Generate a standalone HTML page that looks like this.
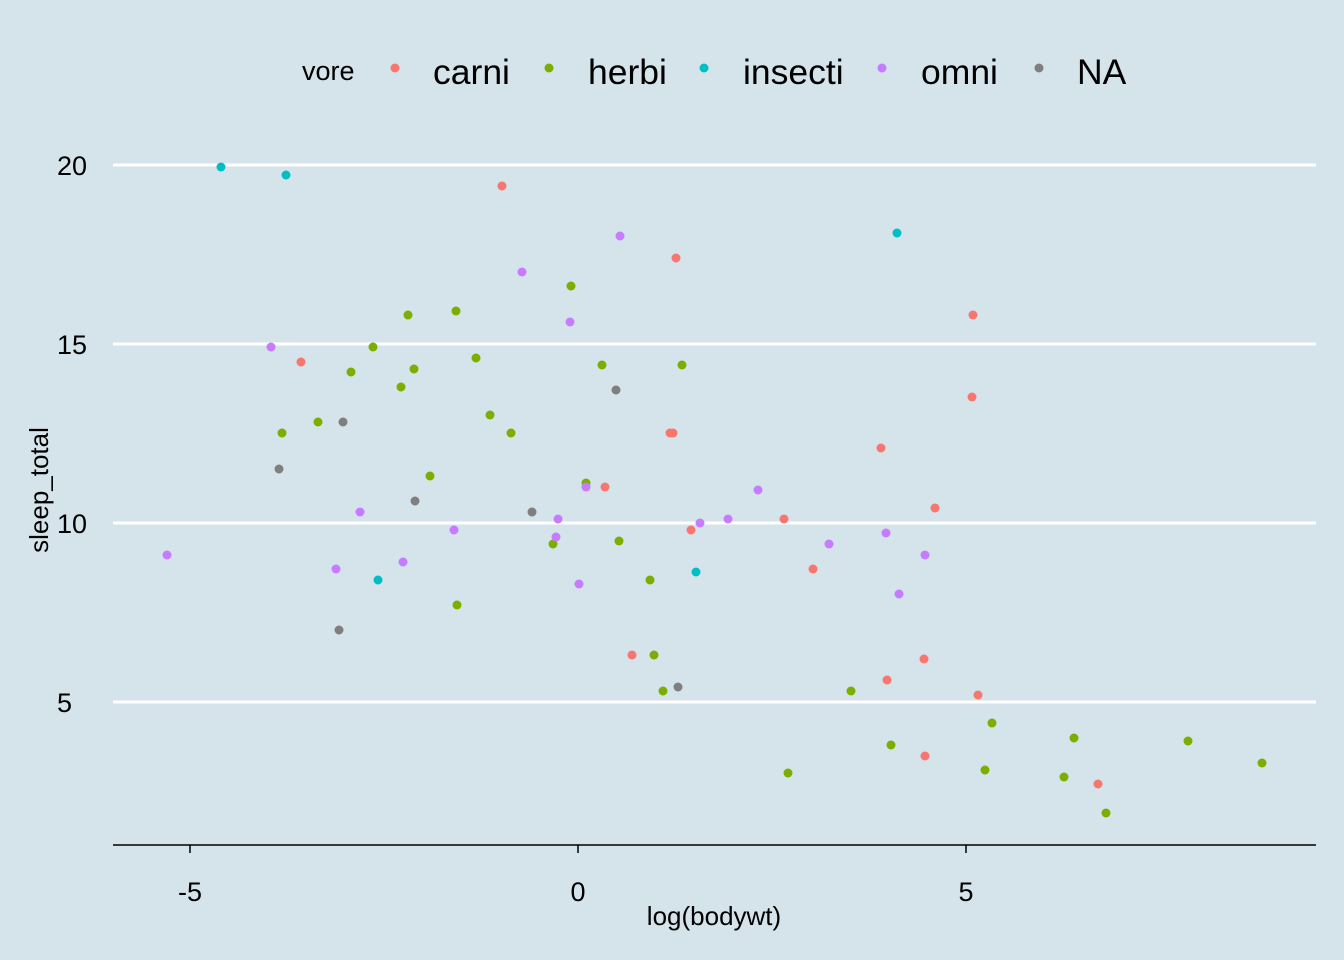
<!DOCTYPE html>
<html><head><style>html,body{margin:0;padding:0;background:#d5e4eb;}svg{display:block}</style></head>
<body>
<svg width="1344" height="960" xmlns="http://www.w3.org/2000/svg" font-family="Liberation Sans, Arial, sans-serif">
<rect width="1344" height="960" fill="#d5e4eb"/>
<g stroke="#fff" stroke-width="3">
<line x1="113" x2="1316" y1="165" y2="165"/>
<line x1="113" x2="1316" y1="344" y2="344"/>
<line x1="113" x2="1316" y1="523" y2="523"/>
<line x1="113" x2="1316" y1="702" y2="702"/>
</g>
<line x1="113" x2="1316" y1="845" y2="845" stroke="#000" stroke-width="1.5"/>
<g stroke="#000" stroke-width="1.5">
<line x1="190" x2="190" y1="845" y2="853"/><line x1="578" x2="578" y1="845" y2="853"/><line x1="966" x2="966" y1="845" y2="853"/>
</g>
<g font-size="27" fill="#000" text-anchor="end">
<text x="87" y="175">20</text><text x="87" y="354">15</text><text x="87" y="533">10</text><text x="72" y="712">5</text>
</g>
<g font-size="27" fill="#000" text-anchor="middle">
<text x="190" y="901">-5</text><text x="578" y="901">0</text><text x="966" y="901">5</text>
</g>
<g font-size="26" fill="#000" text-anchor="middle">
<text x="714" y="925">log(bodywt)</text>
<text transform="translate(48,490) rotate(-90)">sleep_total</text>
</g>
<text x="302" y="80" font-size="27">vore</text>
<g font-size="35.5">
<circle cx="395" cy="68" r="4.5" fill="#F8766D"/><text x="433" y="84">carni</text>
<circle cx="549" cy="68" r="4.5" fill="#7CAE00"/><text x="588" y="84">herbi</text>
<circle cx="704" cy="68" r="4.5" fill="#00BFC4"/><text x="743" y="84">insecti</text>
<circle cx="882" cy="68" r="4.5" fill="#C77CFF"/><text x="921" y="84">omni</text>
<circle cx="1039" cy="68" r="4.5" fill="#7F7F7F"/><text x="1077" y="84">NA</text>
</g>
<g fill="#00BFC4">
<circle cx="221" cy="167" r="4.5"/><circle cx="286" cy="175" r="4.5"/><circle cx="897" cy="233" r="4.5"/><circle cx="378" cy="580" r="4.5"/><circle cx="696" cy="572" r="4.5"/>
</g>
<g fill="#F8766D">
<circle cx="502" cy="186" r="4.5"/><circle cx="676" cy="258" r="4.5"/><circle cx="301" cy="362" r="4.5"/><circle cx="973" cy="315" r="4.5"/><circle cx="972" cy="397" r="4.5"/><circle cx="881" cy="448" r="4.5"/><circle cx="670" cy="433" r="4.5"/><circle cx="673" cy="433" r="4.5"/><circle cx="605" cy="487" r="4.5"/><circle cx="935" cy="508" r="4.5"/><circle cx="691" cy="530" r="4.5"/><circle cx="784" cy="519" r="4.5"/><circle cx="813" cy="569" r="4.5"/><circle cx="632" cy="655" r="4.5"/><circle cx="924" cy="659" r="4.5"/><circle cx="887" cy="680" r="4.5"/><circle cx="978" cy="695" r="4.5"/><circle cx="925" cy="756" r="4.5"/><circle cx="1098" cy="784" r="4.5"/>
</g>
<g fill="#7CAE00">
<circle cx="571" cy="286" r="4.5"/><circle cx="456" cy="311" r="4.5"/><circle cx="408" cy="315" r="4.5"/><circle cx="373" cy="347" r="4.5"/><circle cx="351" cy="372" r="4.5"/><circle cx="414" cy="369" r="4.5"/><circle cx="401" cy="387" r="4.5"/><circle cx="476" cy="358" r="4.5"/><circle cx="602" cy="365" r="4.5"/><circle cx="682" cy="365" r="4.5"/><circle cx="318" cy="422" r="4.5"/><circle cx="282" cy="433" r="4.5"/><circle cx="490" cy="415" r="4.5"/><circle cx="511" cy="433" r="4.5"/><circle cx="430" cy="476" r="4.5"/><circle cx="586" cy="483" r="4.5"/><circle cx="553" cy="544" r="4.5"/><circle cx="619" cy="541" r="4.5"/><circle cx="457" cy="605" r="4.5"/><circle cx="650" cy="580" r="4.5"/><circle cx="654" cy="655" r="4.5"/><circle cx="663" cy="691" r="4.5"/><circle cx="851" cy="691" r="4.5"/><circle cx="992" cy="723" r="4.5"/><circle cx="891" cy="745" r="4.5"/><circle cx="1074" cy="738" r="4.5"/><circle cx="1188" cy="741" r="4.5"/><circle cx="788" cy="773" r="4.5"/><circle cx="985" cy="770" r="4.5"/><circle cx="1064" cy="777" r="4.5"/><circle cx="1262" cy="763" r="4.5"/><circle cx="1106" cy="813" r="4.5"/>
</g>
<g fill="#C77CFF">
<circle cx="620" cy="236" r="4.5"/><circle cx="522" cy="272" r="4.5"/><circle cx="570" cy="322" r="4.5"/><circle cx="271" cy="347" r="4.5"/><circle cx="167" cy="555" r="4.5"/><circle cx="360" cy="512" r="4.5"/><circle cx="336" cy="569" r="4.5"/><circle cx="403" cy="562" r="4.5"/><circle cx="454" cy="530" r="4.5"/><circle cx="558" cy="519" r="4.5"/><circle cx="556" cy="537" r="4.5"/><circle cx="586" cy="487" r="4.5"/><circle cx="579" cy="584" r="4.5"/><circle cx="700" cy="523" r="4.5"/><circle cx="728" cy="519" r="4.5"/><circle cx="758" cy="490" r="4.5"/><circle cx="829" cy="544" r="4.5"/><circle cx="886" cy="533" r="4.5"/><circle cx="925" cy="555" r="4.5"/><circle cx="899" cy="594" r="4.5"/>
</g>
<g fill="#7F7F7F">
<circle cx="616" cy="390" r="4.5"/><circle cx="343" cy="422" r="4.5"/><circle cx="279" cy="469" r="4.5"/><circle cx="415" cy="501" r="4.5"/><circle cx="532" cy="512" r="4.5"/><circle cx="339" cy="630" r="4.5"/><circle cx="678" cy="687" r="4.5"/>
</g>
</svg>
</body></html>
